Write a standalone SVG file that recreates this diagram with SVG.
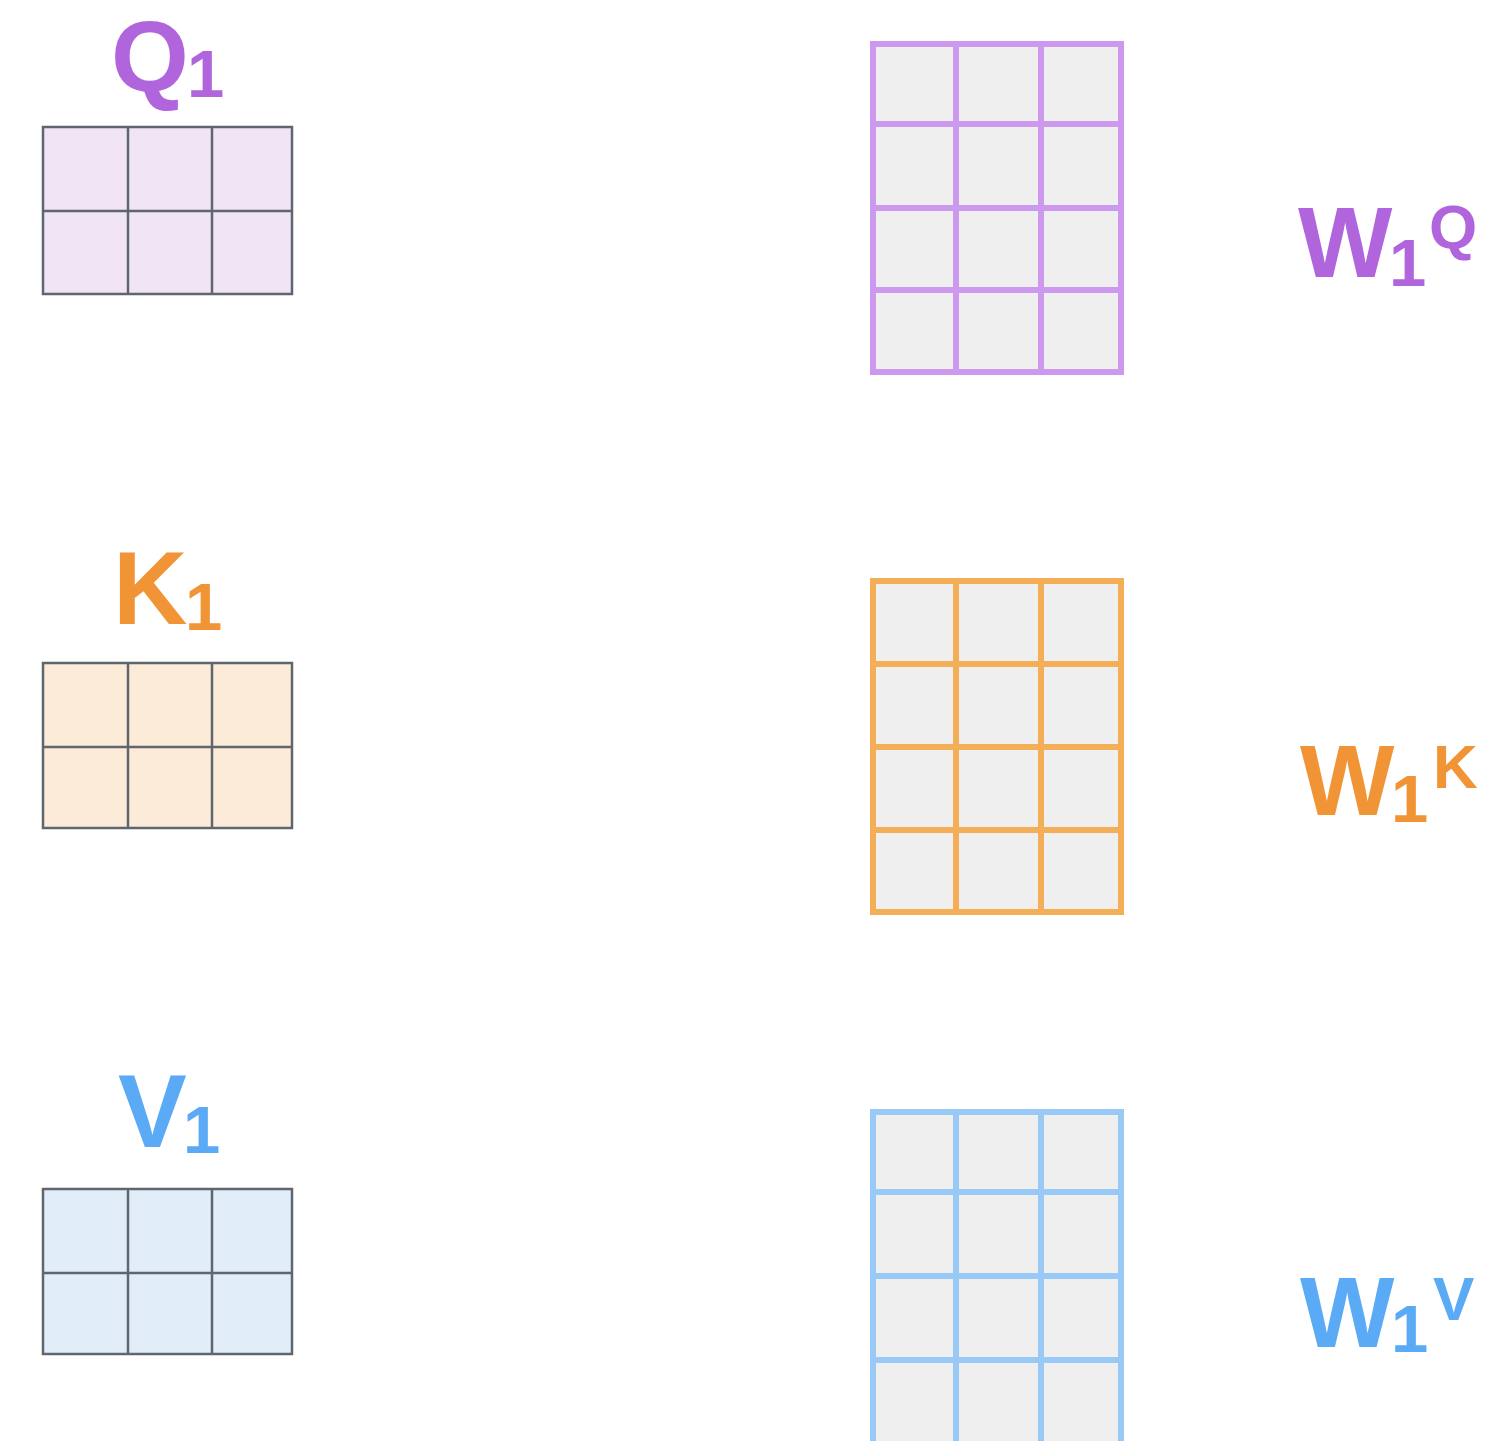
<svg xmlns="http://www.w3.org/2000/svg" width="1496" height="1441" viewBox="0 0 1496 1441">
<style>
.lbl{font-family:"Liberation Sans",Arial,sans-serif;font-weight:bold}
.big{font-size:100px}
.big2{font-size:103px}
.sub{font-size:67px}
.sup{font-size:62px}
.in{stroke:#5f666e;stroke-width:2.5}
.w{fill:#efefef;stroke-width:6}
.wl{stroke-width:6;fill:none}
</style>
<rect width="1496" height="1441" fill="#ffffff"/>
<g id="Q1">
<rect class="in" x="43" y="127" width="249" height="167" fill="#f0e4f5"/>
<path class="in" d="M128 127V294M212 127V294M43 211H292"/>
<text class="lbl" fill="#b065dd"><tspan class="big" x="111" y="91">Q</tspan><tspan class="sub" x="187" y="97">1</tspan></text>
</g>
<g id="K1">
<rect class="in" x="43" y="663" width="249" height="165" fill="#fcebd9"/>
<path class="in" d="M128 663V828M212 663V828M43 747H292"/>
<text class="lbl" fill="#f09436"><tspan class="big2" x="113" y="624">K</tspan><tspan class="sub" x="185" y="630">1</tspan></text>
</g>
<g id="V1">
<rect class="in" x="43" y="1189" width="249" height="165" fill="#e1eefa"/>
<path class="in" d="M128 1189V1354M212 1189V1354M43 1273H292"/>
<text class="lbl" fill="#5aaaf5"><tspan class="big2" x="118" y="1147">V</tspan><tspan class="sub" x="183" y="1153">1</tspan></text>
</g>
<g id="WQ">
<rect class="w" x="873" y="44" width="248" height="328" stroke="#cc99ee"/>
<path class="wl" stroke="#cc99ee" d="M956 44V372M1041 44V372M873 124H1121M873 208H1121M873 290H1121"/>
<text class="lbl" fill="#b065dd"><tspan class="big" x="1298" y="277">W</tspan><tspan class="sub" x="1389" y="286">1</tspan><tspan class="sup" x="1429" y="248">Q</tspan></text>
</g>
<g id="WK">
<rect class="w" x="873" y="581" width="248" height="331" stroke="#f5ae58"/>
<path class="wl" stroke="#f5ae58" d="M956 581V912M1041 581V912M873 664H1121M873 747H1121M873 830H1121"/>
<text class="lbl" fill="#f09436"><tspan class="big" x="1300" y="815">W</tspan><tspan class="sub" x="1391" y="822">1</tspan><tspan class="sup" x="1433" y="788">K</tspan></text>
</g>
<g id="WV">
<rect class="w" x="873" y="1112" width="248" height="332" stroke="#99c9f7"/>
<path class="wl" stroke="#99c9f7" d="M956 1112V1444M1041 1112V1444M873 1192H1121M873 1276H1121M873 1360H1121"/>
<text class="lbl" fill="#5aaaf5"><tspan class="big" x="1300" y="1347">W</tspan><tspan class="sub" x="1391" y="1352">1</tspan><tspan class="sup" x="1433" y="1320">V</tspan></text>
</g>
<g id="connectors"></g>
</svg>
